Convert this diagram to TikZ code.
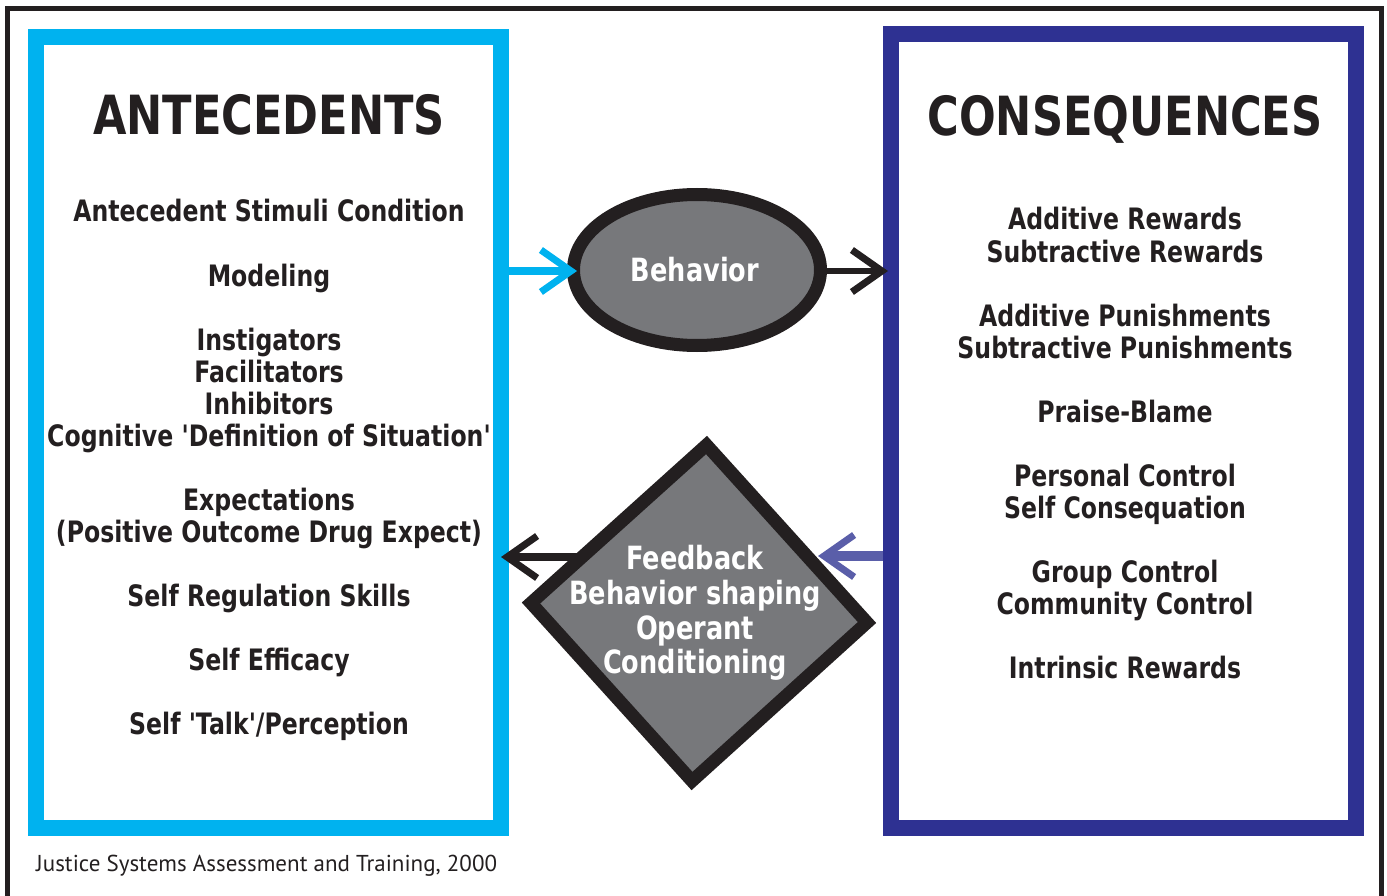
\documentclass[tikz,border=0pt]{standalone}
\usepackage{fontspec}
\usetikzlibrary{arrows.meta,shapes.geometric}
\newfontfamily\bfnt[FakeStretch=0.8]{DejaVu Sans Bold}
\newfontfamily\ftnt{PT Sans}
\definecolor{cyanc}{HTML}{00B2EF}
\definecolor{navyc}{HTML}{2E3192}
\definecolor{grayc}{HTML}{77787B}
\definecolor{blk}{HTML}{231F20}
\definecolor{bluec}{HTML}{5A5EA9}
\tikzset{
  title/.style={anchor=base, text=blk, font=\bfnt\fontsize{54}{54}\selectfont, inner sep=0},
  item/.style={anchor=base, text=blk, font=\bfnt\fontsize{29.5}{32}\selectfont, inner sep=0},
  wtxt/.style={anchor=base, text=white, font=\bfnt\fontsize{32}{35}\selectfont, inner sep=0},
  bigbox/.style={draw=#1, line width=16pt, inner sep=0, minimum width=465pt},
  arr/.style={line width=#1},
  barb/.style={-{Straight Barb[length=30pt,width=42pt,line width=7pt]}}
}
\begin{document}
\begin{tikzpicture}[x=1pt,y=-1pt]
\useasboundingbox (0,0) rectangle (1387,896);
% outer frame
\draw[blk, line width=4.5pt] (7.5,900) -- (7.5,8.5) -- (1381.5,8.5) -- (1381.5,900);
% boxes
\node[bigbox=cyanc, minimum height=791pt] (antbox) at (268.5,432.5) {};
\node[bigbox=navyc, minimum height=793pt] (consbox) at (1123.5,431) {};
% behavior ellipse
\node[ellipse, draw=blk, fill=grayc, line width=13pt, minimum width=247pt, minimum height=151pt, inner sep=0] (behav) at (697,270) {};
\node[wtxt] (behavt) at (695,281) {Behavior};
% diamond coordinates
\coordinate (dt) at (706.5,445);
\coordinate (dr) at (867,622.5);
\coordinate (db) at (692,781);
\coordinate (dl) at (531,603);
\coordinate (fbL) at (585,557);
\coordinate (fbR) at (818,556);
% arrows
\draw[cyanc, arr=8pt, barb, shorten >=-10pt] (antbox.east |- 0,271) -- (behav.west |- 0,271);
\draw[blk, arr=6pt, barb, shorten >=-5pt] (behav.east |- 0,271) -- (consbox.west |- 0,271);
\draw[blk, arr=8pt, barb, shorten >=-8pt] (fbL) -- (antbox.east |- fbL);
\draw[bluec, arr=10pt, barb] (consbox.west |- fbR) -- (fbR);
% diamond
\draw[blk, fill=grayc, line width=13pt, line join=miter] (dt) -- (dr) -- (db) -- (dl) -- cycle;
\node[wtxt] (fb1) at (695,569) {Feedback};
\node[wtxt] (fb2) at (695,604) {Behavior shaping};
\node[wtxt] (fb3) at (695,639) {Operant};
\node[wtxt] (fb4) at (695,673) {Conditioning};
% left texts
\node[title] (antt) at (269,135) {ANTECEDENTS};
\node[item] (a1) at (269,222) {Antecedent Stimuli Condition};
\node[item] (a2) at (269,286) {Modeling};
\node[item] (a3) at (269,350) {Instigators};
\node[item] (a4) at (269,382) {Facilitators};
\node[item] (a5) at (269,414) {Inhibitors};
\node[item] (a6) at (269,446) {Cognitive 'Definition of Situation'};
\node[item] (a7) at (269,510) {Expectations};
\node[item] (a8) at (269,542) {(Positive Outcome Drug Expect)};
\node[item] (a9) at (269,606) {Self Regulation Skills};
\node[item] (a10) at (269,670) {Self Efficacy};
\node[item] (a11) at (269,734) {Self 'Talk'/Perception};
% right texts
\node[title] (const) at (1125,136) {CONSEQUENCES};
\node[item] (c1) at (1125,230) {Additive Rewards};
\node[item] (c2) at (1125,262) {Subtractive Rewards};
\node[item] (c3) at (1125,326) {Additive Punishments};
\node[item] (c4) at (1125,358) {Subtractive Punishments};
\node[item] (c5) at (1125,422) {Praise-Blame};
\node[item] (c6) at (1125,486) {Personal Control};
\node[item] (c7) at (1125,518) {Self Consequation};
\node[item] (c8) at (1125,582) {Group Control};
\node[item] (c9) at (1125,614) {Community Control};
\node[item] (c10) at (1125,678) {Intrinsic Rewards};
% footer
\node[anchor=base west, inner sep=0, text=blk, font=\ftnt\fontsize{23}{24}\selectfont] (foot) at (36,871) {Justice Systems Assessment and Training, 2000};
\end{tikzpicture}
\end{document}
